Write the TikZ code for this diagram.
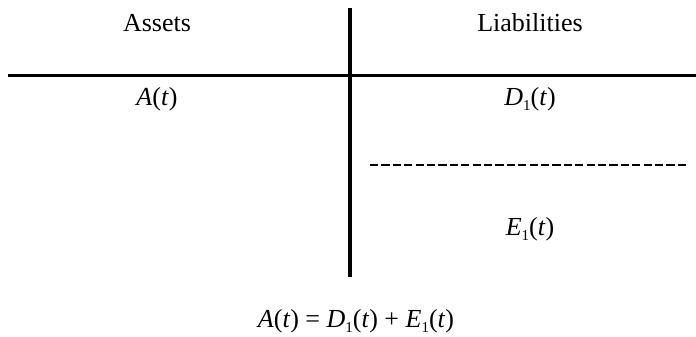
\documentclass[tikz,border=0pt]{standalone}
\usepackage{fontspec}
\setmainfont{Liberation Serif}
\usetikzlibrary{positioning,calc}
\newcommand{\lowsub}[1]{\raisebox{-0.22em}{\fontsize{15pt}{15pt}\selectfont #1}}
\tikzset{
  label text/.style={anchor=base, inner sep=0pt, font=\fontsize{26pt}{30pt}\selectfont},
  rule line/.style={line width=3.6pt},
  split line/.style={line width=2.8pt, dash pattern=on 8.2pt off 3.2pt}
}
\begin{document}
\begin{tikzpicture}[x=1pt, y=-1pt]
  \useasboundingbox (0,0) rectangle (696,337);
  % T-account frame
  \coordinate (hl) at (8,75.5);
  \coordinate (hr) at (696,75.5);
  \coordinate (vt) at (350,8);
  \coordinate (vb) at (350,277);
  \coordinate (dl) at (370,165);
  \coordinate (dr) at (687,165);
  \draw[rule line] (hl) -- (hr);
  \draw[line width=4.6pt] (vt) -- (vb);
  \draw[split line] (dl) -- (dr);
  % headings and entries
  \node[label text] (assets) at (157,32) {Assets};
  \node[label text] (liab) at (530,32) {Liabilities};
  \node[label text] (at) at (157,105) {\textit{A}(\textit{t})};
  \node[label text] (dt) at (530,105) {\textit{D}\lowsub{1}(\textit{t})};
  \node[label text] (et) at (530,235) {\textit{E}\lowsub{1}(\textit{t})};
  \node[label text] (eq) at (356,327) {\textit{A}(\textit{t}) = \textit{D}\lowsub{1}(\textit{t}) + \textit{E}\lowsub{1}(\textit{t})};
\end{tikzpicture}
\end{document}
